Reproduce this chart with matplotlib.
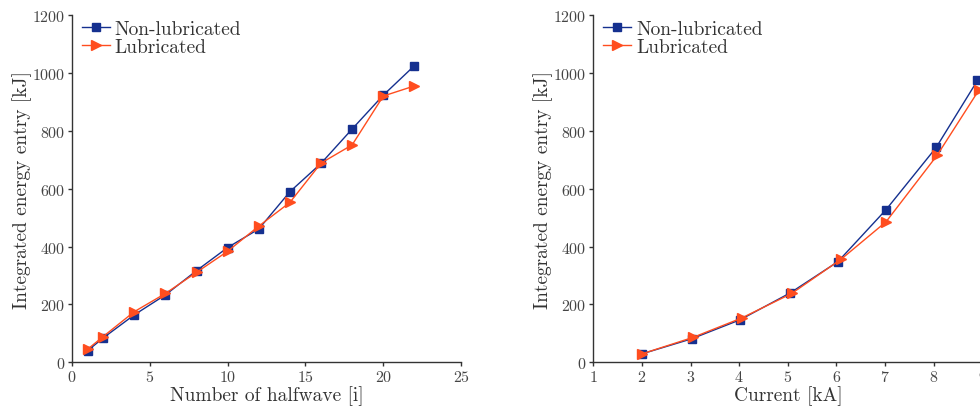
import matplotlib
matplotlib.use('Agg')
import matplotlib.pyplot as plt

plt.rcParams['font.family'] = 'cmr10'
plt.rcParams['mathtext.fontset'] = 'cm'
plt.rcParams['axes.formatter.use_mathtext'] = True

# left panel: energy vs number of halfwaves
halfwave = [1, 2, 4, 6, 8, 10, 12, 14, 16, 18, 20, 22]
e_half_dry = [40, 84, 164, 233, 317, 397, 461, 590, 688, 807, 924, 1026]
e_half_lub = [45, 89, 175, 238, 311, 384, 471, 553, 689, 752, 921, 956]

# right panel: energy vs current
current_dry = [2.0, 3.02, 4.02, 5.05, 6.03, 7.02, 8.05, 8.9]
e_cur_dry = [29, 81, 147, 240, 348, 528, 743, 975]
current_lub = [2.0, 3.05, 4.05, 5.08, 6.1, 7.02, 8.07, 8.93]
e_cur_lub = [29, 86, 153, 238, 357, 486, 716, 942]

blue = '#15308f'
orange = '#ff4d1f'
axcol = '#333333'

fig = plt.figure(figsize=(9.8, 4.1), dpi=100)
ax1 = fig.add_axes([0.0735, 0.114, 0.397, 0.846])
ax2 = fig.add_axes([0.6054, 0.114, 0.397, 0.846])

def style(ax):
    for s in ['top', 'right']:
        ax.spines[s].set_visible(False)
    for s in ['left', 'bottom']:
        ax.spines[s].set_color(axcol)
        ax.spines[s].set_linewidth(1.0)
    ax.tick_params(direction='out', length=3, width=1, color=axcol,
                   labelcolor='#444444', labelsize=11.5, pad=2)
    ax.set_ylim(0, 1200)
    ax.set_yticks([0, 200, 400, 600, 800, 1000, 1200])
    ax.set_ylabel('Integrated energy entry [kJ]', fontsize=14, color='#333333',
                  labelpad=0)

ax1.plot(halfwave, e_half_dry, '-s', color=blue, lw=1, ms=5.5, label='Non-lubricated')
ax1.plot(halfwave, e_half_lub, '->', color=orange, lw=1, ms=7, label='Lubricated')
style(ax1)
ax1.set_xlim(0, 25)
ax1.set_xticks([0, 5, 10, 15, 20, 25])
ax1.set_xlabel('Number of halfwave [i]', fontsize=14, color='#333333', labelpad=1)

ax2.plot(current_dry, e_cur_dry, '-s', color=blue, lw=1, ms=5.5, label='Non-lubricated')
ax2.plot(current_lub, e_cur_lub, '->', color=orange, lw=1, ms=7, label='Lubricated')
style(ax2)
ax2.set_xlim(1, 9)
ax2.set_xticks(range(1, 10))
ax2.set_xlabel('Current [kA]', fontsize=14, color='#333333', labelpad=1)

for ax in (ax1, ax2):
    ax.legend(loc='upper left', bbox_to_anchor=(0.005, 1.01), frameon=False,
              fontsize=14, handlelength=1.45, handletextpad=0.25,
              labelspacing=0.0, borderaxespad=0.0, labelcolor='#333333')

fig.savefig('out.png', dpi=100)
